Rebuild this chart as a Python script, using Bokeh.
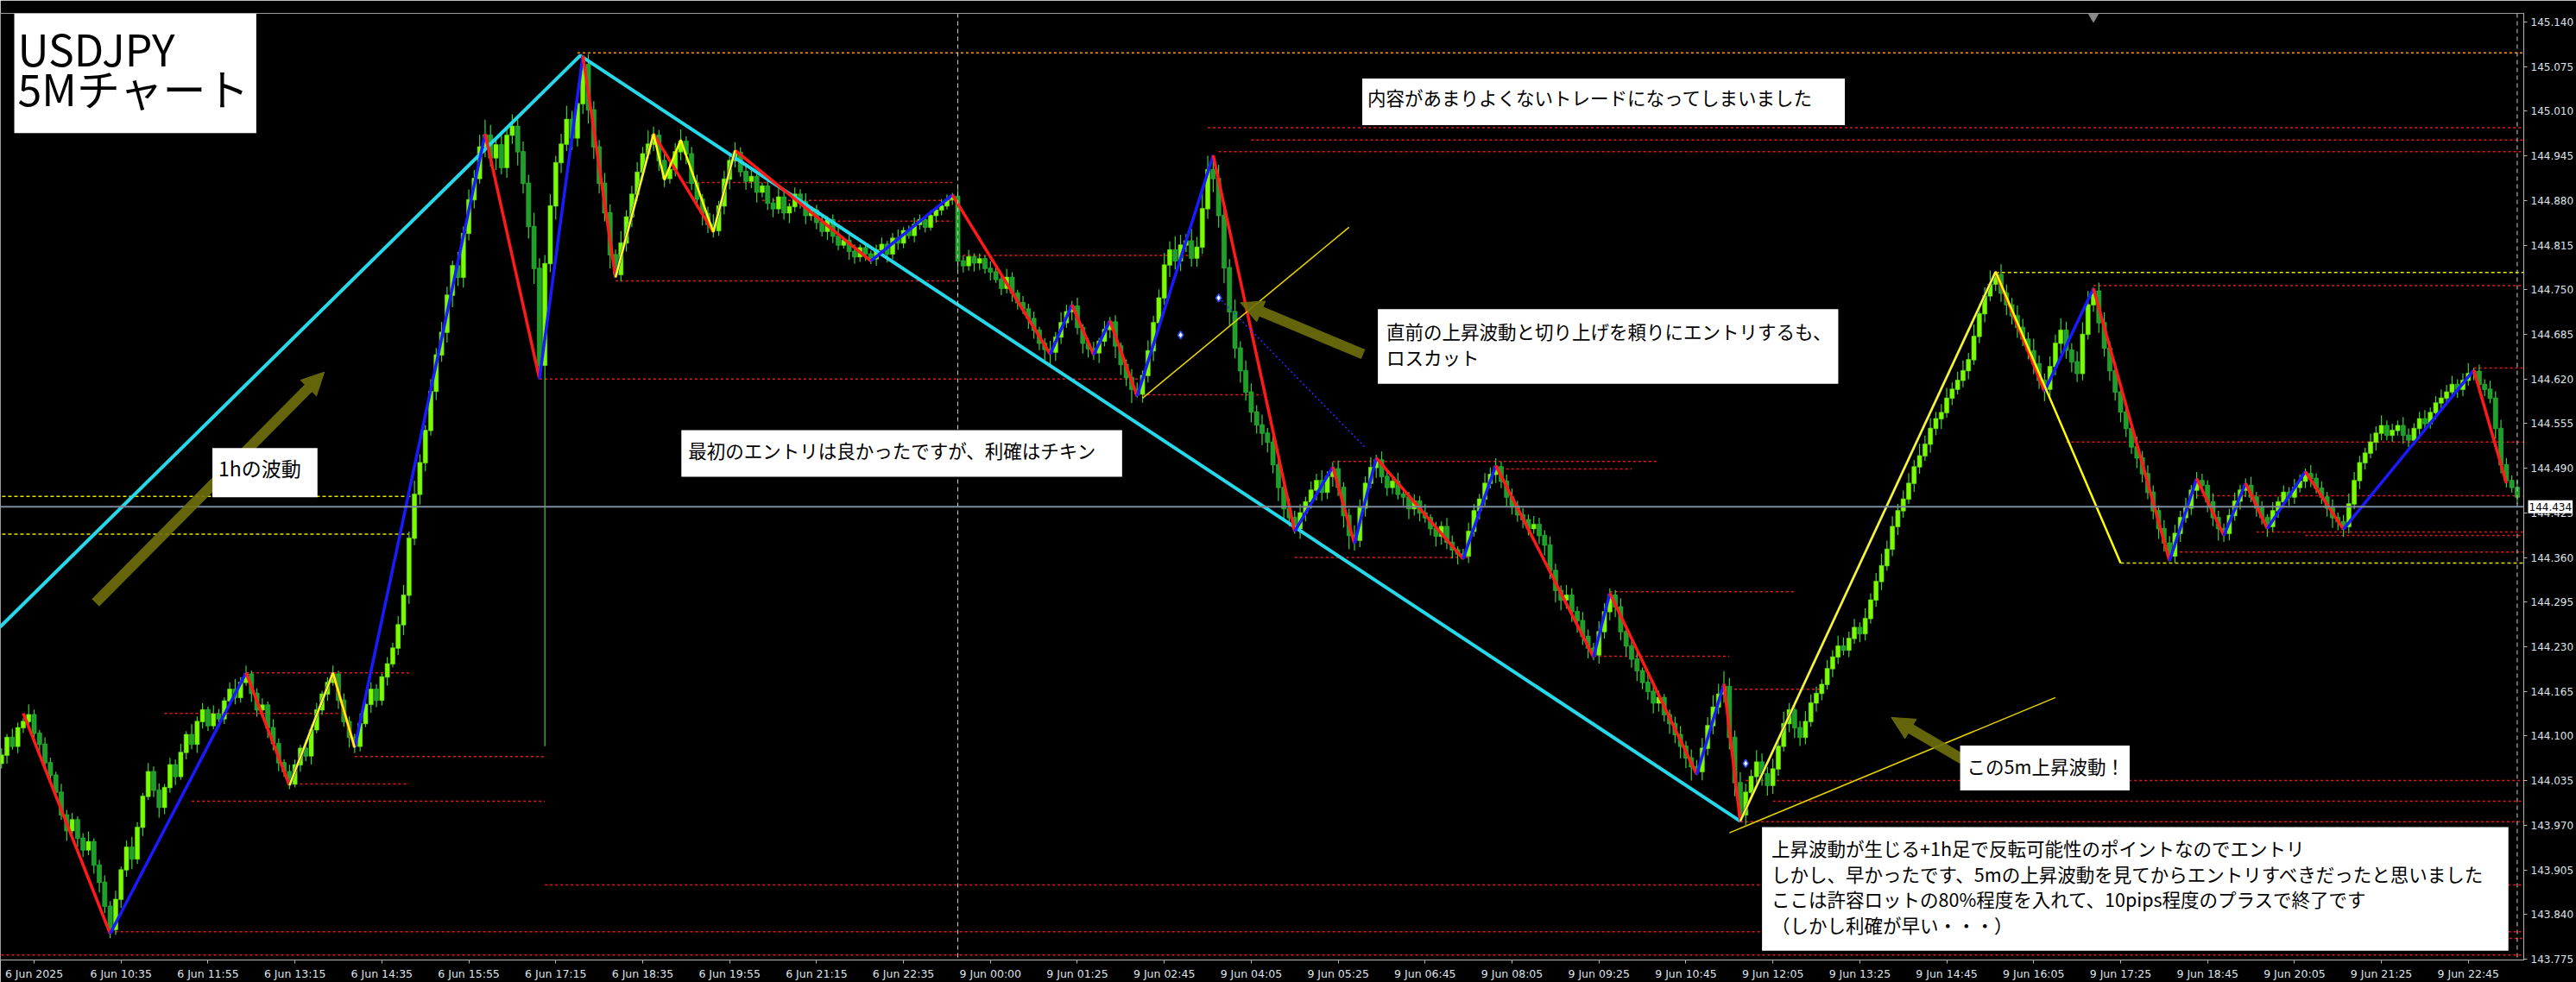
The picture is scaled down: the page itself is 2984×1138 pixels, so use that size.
from bokeh.plotting import figure
from bokeh.models import (Range1d, FixedTicker, PrintfTickFormatter, Label, Span,
                          Arrow, NormalHead, ColumnDataSource)
from bokeh.embed import file_html
from bokeh.resources import INLINE

# ---------------- data ----------------
x_labels = ["6 Jun 2025", "6 Jun 10:35", "6 Jun 11:55", "6 Jun 13:15", "6 Jun 14:35",
            "6 Jun 15:55", "6 Jun 17:15", "6 Jun 18:35", "6 Jun 19:55", "6 Jun 21:15",
            "6 Jun 22:35", "9 Jun 00:00", "9 Jun 01:25", "9 Jun 02:45", "9 Jun 04:05",
            "9 Jun 05:25", "9 Jun 06:45", "9 Jun 08:05", "9 Jun 09:25", "9 Jun 10:45",
            "9 Jun 12:05", "9 Jun 13:25", "9 Jun 14:45", "9 Jun 16:05", "9 Jun 17:25",
            "9 Jun 18:45", "9 Jun 20:05", "9 Jun 21:25", "9 Jun 22:45", "10 Jun 00:15"]
bars_per_label = 16

y_ticks = [145.140, 145.075, 145.010, 144.945, 144.880, 144.815, 144.750, 144.685,
           144.620, 144.555, 144.490, 144.425, 144.360, 144.295, 144.230, 144.165,
           144.100, 144.035, 143.970, 143.905, 143.840, 143.775]

first_open = 144.060
closes = [
    144.072, 144.098, 144.085, 144.112, 144.121, 144.131, 144.104, 144.088, 144.061, 144.043,
    144.018, 143.985, 143.962, 143.978, 143.951, 143.934, 143.946, 143.912, 143.887, 143.852,
    143.818, 143.862, 143.905, 143.938, 143.921, 143.967, 144.012, 144.048, 144.021, 143.996,
    144.025, 144.058, 144.041, 144.076, 144.102, 144.088, 144.121, 144.138, 144.115, 144.132,
    144.125, 144.151, 144.168, 144.156, 144.178, 144.190, 144.162, 144.138, 144.145, 144.112,
    144.089, 144.061, 144.048, 144.030, 144.058, 144.082, 144.071, 144.109, 144.138, 144.161,
    144.178, 144.190, 144.152, 144.121, 144.098, 144.085, 144.118, 144.146, 144.168, 144.152,
    144.186, 144.205, 144.228, 144.262, 144.305, 144.388, 144.452, 144.498, 144.545, 144.602,
    144.655, 144.688, 144.742, 144.785, 144.768, 144.832, 144.881, 144.912, 144.958, 144.975,
    144.942, 144.961, 144.928, 144.975, 144.988, 144.951, 144.905, 144.842, 144.781, 144.640,
    144.788, 144.872, 144.935, 144.962, 144.998, 144.971, 145.021, 145.078, 145.012, 144.958,
    144.905, 144.862, 144.801, 144.772, 144.818, 144.856, 144.889, 144.921, 144.948, 144.962,
    144.975, 144.938, 144.912, 144.925, 144.951, 144.966, 144.948, 144.905, 144.882, 144.861,
    144.845, 144.836, 144.872, 144.911, 144.938, 144.950, 144.922, 144.908, 144.915, 144.892,
    144.901, 144.876, 144.868, 144.885, 144.862, 144.871, 144.889, 144.878, 144.858, 144.866,
    144.848, 144.835, 144.852, 144.828, 144.815, 144.822, 144.806, 144.798, 144.811, 144.802,
    144.795, 144.808, 144.816, 144.802, 144.825, 144.818, 144.836, 144.829, 144.845, 144.852,
    144.841, 144.858, 144.866, 144.872, 144.881, 144.886, 144.792, 144.785, 144.798, 144.789,
    144.795, 144.781, 144.776, 144.765, 144.752, 144.768, 144.745, 144.731, 144.722, 144.708,
    144.691, 144.672, 144.663, 144.659, 144.681, 144.702, 144.718, 144.726, 144.695, 144.672,
    144.664, 144.658, 144.675, 144.692, 144.703, 144.668, 144.641, 144.622, 144.605, 144.598,
    144.625, 144.661, 144.702, 144.738, 144.786, 144.808, 144.792, 144.815, 144.821, 144.796,
    144.812, 144.868, 144.925, 144.912, 144.858, 144.782, 144.718, 144.665, 144.632, 144.601,
    144.572, 144.553, 144.541, 144.528, 144.495, 144.462, 144.431, 144.418, 144.402, 144.425,
    144.441, 144.458, 144.472, 144.455, 144.478, 144.489, 144.462, 144.421, 144.392, 144.385,
    144.432, 144.468, 144.491, 144.502, 144.478, 144.462, 144.471, 144.452, 144.448, 144.431,
    144.442, 144.425, 144.418, 144.402, 144.391, 144.405, 144.382, 144.371, 144.365, 144.362,
    144.398, 144.428, 144.445, 144.468, 144.481, 144.492, 144.471, 144.448, 144.435, 144.422,
    144.415, 144.402, 144.408, 144.392, 144.378, 144.341, 144.312, 144.298, 144.305, 144.281,
    144.268, 144.245, 144.228, 144.218, 144.252, 144.281, 144.305, 144.288, 144.252, 144.231,
    144.212, 144.195, 144.178, 144.165, 144.148, 144.156, 144.131, 144.118, 144.102, 144.085,
    144.068, 144.055, 144.048, 144.082, 144.115, 144.142, 144.161, 144.172, 144.098, 144.032,
    143.985, 144.018, 144.041, 144.062, 144.045, 144.028, 144.052, 144.085, 144.118, 144.138,
    144.112, 144.098, 144.121, 144.148, 144.162, 144.175, 144.198, 144.215, 144.231, 144.225,
    144.242, 144.258, 144.249, 144.271, 144.298, 144.325, 144.348, 144.372, 144.405, 144.428,
    144.445, 144.468, 144.492, 144.508, 144.525, 144.548, 144.562, 144.571, 144.592, 144.605,
    144.618, 144.632, 144.648, 144.682, 144.715, 144.741, 144.758, 144.772, 144.745, 144.728,
    144.712, 144.695, 144.678, 144.661, 144.642, 144.618, 144.605, 144.638, 144.672, 144.691,
    144.662, 144.645, 144.628, 144.685, 144.728, 144.748, 144.702, 144.665, 144.632, 144.601,
    144.572, 144.548, 144.521, 144.505, 144.482, 144.455, 144.428, 144.402, 144.381, 144.362,
    144.395, 144.418, 144.432, 144.458, 144.472, 144.465, 144.441, 144.418, 144.402, 144.395,
    144.421, 144.442, 144.458, 144.465, 144.448, 144.432, 144.418, 144.405, 144.428, 144.441,
    144.455, 144.448, 144.462, 144.471, 144.482, 144.475, 144.461, 144.448, 144.432, 144.418,
    144.412, 144.405, 144.438, 144.472, 144.498, 144.512, 144.528, 144.541, 144.552, 144.538,
    144.545, 144.552, 144.538, 144.531, 144.548, 144.562, 144.555, 144.571, 144.585, 144.592,
    144.601, 144.612, 144.605, 144.618, 144.628, 144.631, 144.612, 144.605, 144.592, 144.548,
    144.495, 144.472, 144.462, 144.448,
]
# upper / lower shadow lengths in quarter pips (0.0025)
wick_up = [
    4, 2, 5, 3, 2, 6, 3, 2, 4, 3,  2, 5, 3, 4, 2, 3, 6, 2, 3, 4,
    3, 5, 2, 4, 6, 3, 2, 5, 3, 4,  2, 4, 3, 5, 2, 6, 3, 4, 2, 5,
    3, 2, 4, 6, 3, 5, 2, 3, 4, 2,  5, 3, 2, 4, 3, 2, 5, 3, 4, 2,
    3, 5, 2, 4, 3, 2, 6, 3, 4, 3,  2, 4, 3, 5, 6, 4, 8, 5, 3, 7,
    4, 6, 5, 3, 8, 4, 6, 5, 7, 9,  6, 4, 8, 5, 7, 4, 6, 5, 8, 6,
    5, 7, 4, 6, 8, 5, 7, 5, 6, 5,  4, 6, 5, 3, 7, 4, 5, 6, 4, 8,
    5, 3, 6, 4, 5, 7, 3, 4, 5, 3,  4, 6, 3, 5, 4, 6, 3, 5, 4, 3,
    2, 4, 3, 5, 3, 2, 4, 3, 5, 2,  3, 4, 2, 3, 5, 2, 3, 4, 2, 3,
    2, 3, 4, 2, 3, 5, 2, 3, 4, 3,  2, 3, 2, 4, 3, 2, 5, 3, 4, 2,
    3, 2, 4, 3, 2, 5, 3, 2, 4, 3,  4, 2, 3, 5, 3, 6, 4, 3, 5, 2,
    3, 4, 2, 5, 3, 4, 2, 3, 5, 4,  3, 6, 4, 5, 7, 5, 8, 6, 4, 7,
    6, 9, 8, 8, 8, 6, 5, 7, 4, 6,  5, 4, 6, 3, 5, 4, 3, 6, 4, 5,
    3, 5, 4, 6, 3, 4, 5, 3, 4, 6,  5, 4, 6, 3, 5, 4, 3, 5, 4, 3,
    4, 3, 5, 2, 4, 3, 5, 4, 2, 3,  5, 4, 3, 6, 4, 5, 3, 4, 5, 3,
    4, 3, 5, 4, 3, 5, 4, 3, 6, 4,  3, 5, 4, 3, 6, 5, 4, 3, 5, 4,
    3, 4, 2, 5, 3, 4, 2, 3, 4, 5,  3, 5, 4, 6, 5, 7, 6, 9, 5, 4,
    6, 5, 4, 7, 5, 4, 6, 5, 7, 4,  5, 4, 6, 5, 4, 3, 5, 4, 6, 5,
    4, 5, 3, 6, 4, 5, 7, 5, 6, 4,  5, 6, 4, 7, 5, 6, 4, 5, 6, 4,
    5, 6, 4, 7, 6, 5, 8, 2, 6, 5,  4, 6, 5, 4, 7, 5, 4, 6, 5, 7,
    5, 4, 6, 7, 8, 2, 5, 6, 4, 5,  4, 5, 3, 6, 4, 5, 4, 3, 5, 4,
    5, 4, 6, 3, 5, 4, 3, 5, 4, 3,  4, 5, 3, 4, 5, 3, 4, 2, 5, 3,
    4, 3, 5, 4, 3, 5, 3, 4, 3, 5,  3, 4, 6, 5, 4, 3, 5, 4, 6, 3,
    4, 3, 5, 4, 3, 4, 5, 3, 4, 5,  4, 5, 3, 4, 6, 2, 4, 3, 5, 4,
    5, 4, 3, 4,
]
wick_dn = [
    3, 5, 2, 4, 3, 2, 4, 6, 3, 5,  4, 3, 6, 2, 5, 4, 3, 5, 6, 4,
    5, 3, 5, 4, 6, 3, 5, 2, 4, 6,  4, 3, 5, 2, 4, 3, 5, 4, 3, 2,
    5, 3, 2, 4, 3, 2, 5, 4, 3, 6,  4, 5, 3, 3, 2, 4, 3, 5, 2, 3,
    4, 2, 5, 3, 6, 4, 3, 2, 5, 4,  3, 5, 2, 4, 6, 5, 4, 6, 5, 3,
    5, 4, 6, 7, 5, 6, 4, 5, 3, 6,  5, 7, 4, 6, 5, 8, 6, 7, 9, 8,
    222, 5, 8, 6, 4, 7, 5, 6, 8, 7, 6, 5, 8, 2, 4, 5, 6, 4, 5, 3,
    4, 6, 5, 3, 4, 5, 6, 4, 5, 7,  5, 4, 3, 5, 6, 4, 3, 5, 4, 6,
    3, 4, 5, 3, 4, 6, 3, 4, 5, 3,  4, 3, 5, 4, 3, 2, 5, 4, 3, 4,
    3, 4, 2, 5, 3, 4, 3, 2, 4, 3,  3, 2, 4, 3, 2, 3, 6, 4, 3, 5,
    4, 3, 5, 2, 4, 3, 5, 4, 3, 6,  5, 4, 6, 7, 5, 4, 3, 5, 4, 6,
    5, 4, 6, 3, 5, 7, 6, 5, 8, 2,  5, 4, 6, 5, 4, 7, 5, 6, 4, 5,
    5, 4, 6, 8, 7, 9, 8, 6, 7, 5,  6, 5, 7, 6, 5, 8, 6, 5, 3, 6,
    5, 4, 6, 5, 4, 6, 5, 7, 8, 6,  4, 5, 3, 6, 4, 5, 4, 3, 5, 6,
    4, 5, 3, 4, 6, 5, 4, 5, 6, 2,  4, 3, 5, 4, 3, 5, 4, 6, 5, 4,
    5, 4, 3, 5, 6, 5, 7, 6, 5, 6,  7, 5, 6, 3, 5, 4, 5, 6, 5, 6,
    5, 6, 4, 5, 6, 5, 4, 6, 5, 7,  6, 8, 2, 5, 4, 5, 4, 5, 7, 8,
    4, 6, 5, 4, 7, 6, 5, 4, 3, 5,  6, 5, 4, 3, 5, 4, 3, 5, 4, 3,
    4, 3, 5, 4, 3, 4, 5, 3, 4, 5,  4, 3, 5, 4, 3, 5, 4, 6, 3, 4,
    3, 4, 5, 3, 4, 5, 3, 4, 5, 6,  5, 6, 4, 5, 6, 5, 7, 4, 5, 6,
    5, 6, 5, 4, 3, 4, 6, 5, 6, 5,  6, 5, 4, 6, 5, 4, 5, 6, 5, 3,
    4, 5, 3, 4, 5, 4, 6, 5, 7, 5,  4, 3, 5, 4, 3, 5, 4, 6, 3, 4,
    3, 5, 4, 3, 4, 5, 3, 4, 5, 6,  5, 6, 4, 3, 5, 4, 3, 5, 4, 3,
    4, 3, 5, 4, 3, 5, 4, 3, 4, 3,  4, 3, 5, 4, 3, 4, 5, 4, 3, 6,
    5, 4, 3, 4,
]
wick_unit = 0.0025
current_price = 144.434

# ZigZag indicator (bar index, price)
zz_bar = [4, 20, 45, 53, 61, 65, 89, 99, 107, 113, 120, 131, 135, 160, 175, 193, 197, 201,
          204, 209, 223, 238, 245, 249, 253, 269, 275, 293, 296, 312, 317, 320, 367, 376,
          385, 399, 404, 409, 413, 417, 424, 431, 455, 461]
zz_price = [144.133, 143.812, 144.192, 144.028, 144.192, 144.083, 144.977, 144.620, 145.091,
            144.768, 144.977, 144.834, 144.953, 144.792, 144.888, 144.656, 144.728, 144.655,
            144.705, 144.595, 144.946, 144.398, 144.492, 144.380, 144.505, 144.358, 144.494,
            144.215, 144.308, 144.044, 144.176, 143.976, 144.776, 144.602, 144.752, 144.355,
            144.475, 144.392, 144.468, 144.402, 144.485, 144.401, 144.633, 144.468]

# second (yellow) zigzag pieces
yz1_bar = [53, 61, 65]
yz1_price = [144.028, 144.192, 144.083]
yz2_bar = [113, 120, 122, 125, 131, 135]
yz2_price = [144.768, 144.977, 144.910, 144.968, 144.834, 144.953]
yz3_bar = [320, 367, 390]
yz3_price = [143.976, 144.776, 144.352]

# 1h wave (cyan)
wave_bar = [-0.5, 106.5, 320]
wave_price = [144.257, 145.091, 143.976]

# thin yellow trend lines
tl_bar0 = [210, 318]
tl_p0 = [144.592, 143.959]
tl_bar1 = [248, 378]
tl_p1 = [144.841, 144.156]

# stop-loss line (blue dotted)
sl_bar = [224, 251]
sl_price = [144.739, 144.520]

# entries
entry_bar = [217, 224, 321]
entry_price = [144.684, 144.738, 144.060]

X_END = 464.2
# red horizontal levels: price, start bar, end bar
red_lvl_price = [144.986, 144.968, 144.951, 144.756, 144.636, 144.528, 144.450, 144.397,
                 144.392, 144.368, 144.035, 144.005, 143.975, 143.883, 143.815, 143.805,
                 143.781,
                 144.906, 144.880, 144.850, 144.800, 144.763, 144.620, 144.597, 144.500,
                 144.489, 144.360, 144.310, 144.216, 144.192, 144.168, 144.133, 144.070,
                 144.030, 144.005]
red_lvl_from = [222, 230, 224, 385, 455, 380, 403, 415, 424, 399, 321, 326, 320, 100, 20,
                330, -1,
                126, 140, 152, 176, 113, 99, 209, 245, 275, 238, 296, 293, 45, 317, 30, 65,
                53, 35]
red_lvl_to = [X_END] * 17 + [175, 175, 175, 221, 176, 210, 232, 305, 300, 270, 330, 318,
                             75, 335, 62, 100, 75, 100]

# yellow / orange horizontal levels
ylw_lvl_price = [144.775, 144.352, 144.449, 144.394]
ylw_lvl_from = [367, 390, -1, -1]
ylw_lvl_to = [X_END, X_END, 76, 75]
org_lvl_price = [145.095]
org_lvl_from = [106]
org_lvl_to = [X_END]

# period separators
sep_bar = [176, 463]

# olive arrows (tail bar, tail price, head bar, head price)
arr_bar0 = [17.3, 250.6, 360.9]
arr_p0 = [144.294, 144.656, 144.066]
arr_bar1 = [59.4, 228.0, 347.8]
arr_p1 = [144.630, 144.731, 144.127]

# ---------------- derived candle data ----------------
n = min(len(closes), len(wick_up), len(wick_dn))
closes = closes[:n]
opens = [first_open] + closes[:n - 1]
xs = list(range(n))
highs = [max(opens[i], closes[i]) + wick_up[i] * wick_unit for i in xs]
lows = [min(opens[i], closes[i]) - wick_dn[i] * wick_unit for i in xs]

up_i = [i for i in xs if closes[i] >= opens[i]]
dn_i = [i for i in xs if closes[i] < opens[i]]

def body_src(ids):
    return ColumnDataSource(dict(
        x=[i for i in ids],
        top=[max(opens[i], closes[i]) + 0.0004 for i in ids],
        bottom=[min(opens[i], closes[i]) - 0.0004 for i in ids]))

wick_src = ColumnDataSource(dict(x=xs, hi=highs, lo=lows))

# ---------------- figure ----------------
W, H = 2984, 1138
X0 = -0.2
FRAME_TOP = 12          # px taken by the price-tag strip above the frame
AXIS_H = 22
PRICE_PER_PX = 0.0012489
Y_TOP = 145.140 + (22 - FRAME_TOP) * PRICE_PER_PX
Y_BOT = Y_TOP - (H - AXIS_H - FRAME_TOP) * PRICE_PER_PX
p = figure(width=W, height=H, output_backend="svg", toolbar_location=None,
           x_range=Range1d(X0, X_END), y_range=Range1d(Y_BOT, Y_TOP),
           x_axis_location="below", y_axis_location="right",
           background_fill_color="black", border_fill_color="black",
           min_border_left=0, min_border_top=0, min_border_right=0, min_border_bottom=0)
p.xgrid.visible = False
p.ygrid.visible = False
p.outline_line_color = "#9a9a9a"

ax_col = "#b4b4b4"
xa = p.xaxis[0]
lbl_shift = 6  # labels start at their bar, like the terminal
tick_pairs = [(bars_per_label * i + lbl_shift, s) for i, s in enumerate(x_labels)
              if bars_per_label * i + lbl_shift <= X_END]
xa.ticker = FixedTicker(ticks=[t for t, _ in tick_pairs])
xa.major_label_overrides = {t: s for t, s in tick_pairs}
ya = p.yaxis[0]
ya.ticker = FixedTicker(ticks=y_ticks)
ya.formatter = PrintfTickFormatter(format="%.3f")
for ax in (xa, ya):
    ax.axis_line_color = ax_col
    ax.major_tick_line_color = ax_col
    ax.minor_tick_line_color = None
    ax.major_tick_in = 0
    ax.major_tick_out = 4
    ax.major_label_text_color = "#dde3ea"
    ax.major_label_text_font = "DejaVu Sans"
    ax.major_label_standoff = 4
xa.major_label_text_font_size = "12.5px"
ya.major_label_text_font_size = "12px"

# current price tag (kept in a side panel so it may sit on the price axis)
p.add_layout(Label(x=X_END, y=current_price, x_offset=5, text=f"{current_price:.3f}",
                   text_font="DejaVu Sans", text_font_size="12px", text_color="black",
                   text_align="left", text_baseline="middle",
                   background_fill_color="white", padding=(1, 3)), "above")

# level lines
p.segment(x0=red_lvl_from, y0=red_lvl_price, x1=red_lvl_to, y1=red_lvl_price,
          line_color="#e01818", line_width=1.5, line_dash="3 3")
p.segment(x0=ylw_lvl_from, y0=ylw_lvl_price, x1=ylw_lvl_to, y1=ylw_lvl_price,
          line_color="#e6e600", line_width=1.5, line_dash="4 3")
p.segment(x0=org_lvl_from, y0=org_lvl_price, x1=org_lvl_to, y1=org_lvl_price,
          line_color="#ff9a00", line_width=1.5, line_dash="3 3")

for b in sep_bar:
    p.add_layout(Span(location=b, dimension="height", line_color="#d0d0d0",
                      line_width=1, line_dash="5 4"))
p.add_layout(Span(location=current_price, dimension="width", line_color="#7d8c9c",
                  line_width=2))

# candles
p.segment(x0="x", y0="lo", x1="x", y1="hi", source=wick_src, line_color="#3ccf3c",
          line_width=1.2)
p.vbar(x="x", top="top", bottom="bottom", width=0.8, source=body_src(up_i),
       fill_color="#7cfc00", line_color="#66e01a", line_width=0.6)
p.vbar(x="x", top="top", bottom="bottom", width=0.8, source=body_src(dn_i),
       fill_color="#1f9f2a", line_color="#2db83a", line_width=0.6)

# 1h wave
p.line(wave_bar, wave_price, line_color="#26d9ea", line_width=4)

# zigzag red/blue
zx0, zy0, zx1, zy1, zc = [], [], [], [], []
for k in range(len(zz_bar) - 1):
    zx0.append(zz_bar[k]); zy0.append(zz_price[k])
    zx1.append(zz_bar[k + 1]); zy1.append(zz_price[k + 1])
    zc.append("#ff1a1a" if zz_price[k + 1] < zz_price[k] else "#1a1aff")
p.segment(x0=zx0, y0=zy0, x1=zx1, y1=zy1, line_color=zc, line_width=3.5)

# yellow zigzag pieces and trend lines
for bxs, pys in ((yz1_bar, yz1_price), (yz2_bar, yz2_price), (yz3_bar, yz3_price)):
    p.line(bxs, pys, line_color="#ffff00", line_width=2.5)
p.segment(x0=tl_bar0, y0=tl_p0, x1=tl_bar1, y1=tl_p1, line_color="#e8d400", line_width=1.5)
p.line(sl_bar, sl_price, line_color="#2b2bff", line_width=1.5, line_dash="2 3")
p.scatter(entry_bar, entry_price, marker="diamond", size=9, fill_color="white",
          line_color="#3050ff", line_width=1.5)

# top marker
p.scatter([385], [Y_TOP - 4 * PRICE_PER_PX], marker="inverted_triangle", size=11,
          fill_color="#8a8a8a", line_color="#8a8a8a")

# olive arrows
olive = "#6f6f0c"
for a in range(len(arr_bar0)):
    p.add_layout(Arrow(end=NormalHead(size=26, fill_color=olive, line_color=olive,
                                      fill_alpha=0.9, line_alpha=0.9),
                       x_start=arr_bar0[a], y_start=arr_p0[a],
                       x_end=arr_bar1[a], y_end=arr_p1[a],
                       line_color=olive, line_width=12, line_alpha=0.9))

# ---------------- text boxes (positions given in page pixels) ----------------
PX_PER_BAR = 6.28

def bx(px):
    return X0 + px / PX_PER_BAR

def py(px):
    return Y_TOP - (px - FRAME_TOP) * PRICE_PER_PX

jp = "Noto Sans CJK JP"

def box(left, top, pad, text, size, lh=1.2):
    p.add_layout(Label(x=bx(left), y=py(top), text=text, text_font=jp,
                       text_font_size=size, text_color="black", text_align="left",
                       text_baseline="top", text_line_height=lh,
                       background_fill_color="white", background_fill_alpha=1.0,
                       padding=pad))

box(16, 12, (4, 8, 3, 17), "USDJPY\n5Mチャート", "50px", 0.65)
box(1574, 88, (6, 37, 6, 17), "内容があまりよくないトレードになってしまいました", "21.5px")
box(1592, 357, (10, 8, 10, 16), "直前の上昇波動と切り上げを頼りにエントリするも、\nロスカット",
    "21.5px", 0.95)
box(787, 498, (8, 30, 8, 15), "最初のエントリは良かったですが、利確はチキン", "21.5px")
box(245, 519, (7, 19, 6, 17), "1hの波動", "23px")
box(2036, 961, (11, 28, 9, 15),
    "上昇波動が生じる+1h足で反転可能性のポイントなのでエントリ\n"
    "しかし、早かったです、5mの上昇波動を見てからエントリすべきだったと思いました\n"
    "ここは許容ロットの80%程度を入れて、10pips程度のプラスで終了です\n"
    "（しかし利確が早い・・・）", "21.5px", 0.95)
box(2265, 866, (8, 6, 8, 13), "この5m上昇波動！", "21.5px")

open("out.html", "w").write(file_html(p, INLINE))
